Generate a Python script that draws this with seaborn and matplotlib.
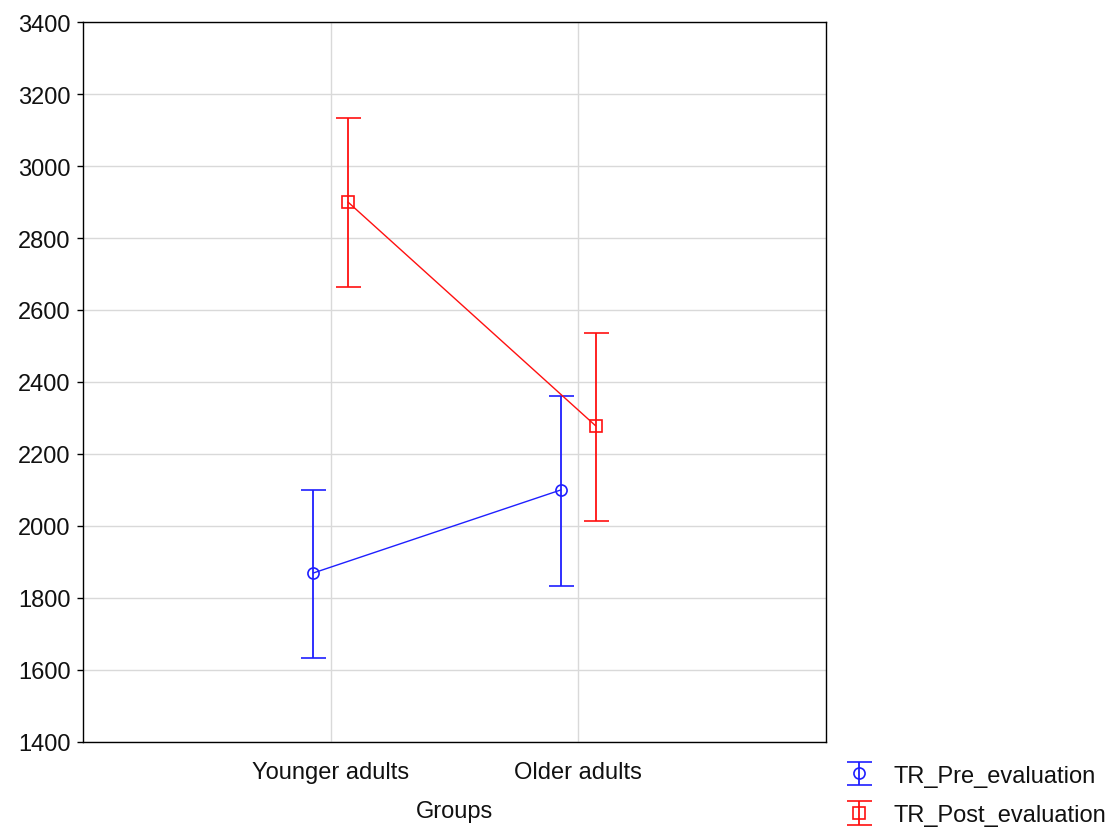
import matplotlib
matplotlib.use("Agg")
import matplotlib.pyplot as plt
import seaborn as sns
import pandas as pd
import numpy as np

# Data
groups = ["Younger adults", "Older adults"]
pre_mean = [1869, 2100]
pre_low = [1633, 1833]
pre_high = [2100, 2362]
post_mean = [2900, 2278]
post_low = [2664, 2014]
post_high = [3133, 2536]

sns.set_style("white")
plt.rcParams['font.family'] = ['Liberation Sans', 'DejaVu Sans']
plt.rcParams['text.color'] = '#111111'
plt.rcParams['xtick.color'] = '#111111'
plt.rcParams['ytick.color'] = '#111111'
plt.rcParams['axes.labelcolor'] = '#111111'

fig = plt.figure(figsize=(11.17, 8.28), dpi=100)
ax = fig.add_axes([0.0743, 0.103, 0.6652, 0.869])

x = np.arange(len(groups))
dodge = 0.07

series = [
    ("TR_Pre_evaluation", pre_mean, pre_low, pre_high, "#1f1fff", "o", -dodge),
    ("TR_Post_evaluation", post_mean, post_low, post_high, "#ff1010", "s", dodge),
]

for name, mean, low, high, color, marker, off in series:
    df = pd.DataFrame({"x": x + off, "y": mean})
    sns.lineplot(data=df, x="x", y="y", color=color, lw=1, ax=ax, legend=False)
    mean = np.array(mean)
    yerr = [mean - np.array(low), np.array(high) - mean]
    ax.errorbar(x + off, mean, yerr=yerr, fmt=marker, color=color, mfc="none",
                ms=8, mew=1.2, elinewidth=1.3, capsize=9, capthick=1.3, label=name)

ax.set_xlim(-1, 2)
ax.set_ylim(1400, 3400)
ax.set_xticks(x)
ax.set_xticklabels(groups)
ax.set_yticks(np.arange(1400, 3401, 200))
ax.grid(True, color="#d9d9d9", lw=1)
ax.set_axisbelow(True)
ax.set_xlabel("Groups", fontsize=17, labelpad=12)
ax.set_ylabel("")
ax.tick_params(axis="both", labelsize=17, length=0)
ax.tick_params(axis="x", pad=14)
ax.tick_params(axis="y", length=4, width=1, color="black", left=True, pad=5)
for s in ax.spines.values():
    s.set_color("black")
    s.set_linewidth(1)

handles, labels = ax.get_legend_handles_labels()
fig.legend(handles, labels, loc="lower left", bbox_to_anchor=(0.757, -0.002),
           frameon=False, fontsize=17, handlelength=0.95, labelspacing=0.75,
           handletextpad=1.0, borderpad=0.1, borderaxespad=0)

fig.savefig("out.png", dpi=100)
